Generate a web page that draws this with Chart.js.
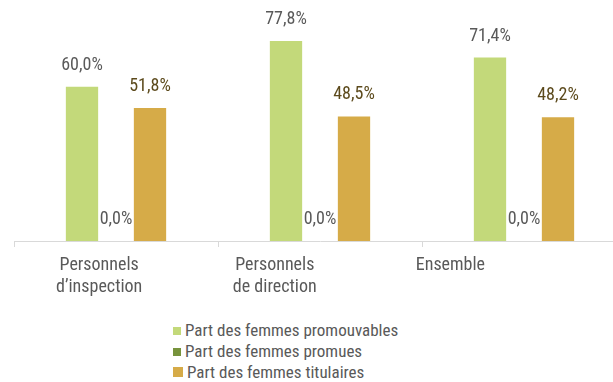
<!DOCTYPE html>
<html lang="fr">
<head>
<meta charset="utf-8">
<title>Part des femmes</title>
<script src="https://cdn.jsdelivr.net/npm/chart.js@4"></script>
<style>
  html, body { margin: 0; padding: 0; background: #fff; overflow: hidden; }
  #wrap { position: relative; width: 613px; height: 382px; overflow: hidden; }
  #chart { position: absolute; left: 0; top: 0; }
  #legend {
    position: absolute; left: 173px; top: 320px;
    font: 17px "Liberation Sans Narrow", "Roboto Condensed", "DejaVu Sans Condensed", sans-serif;
    color: #595959; line-height: 21px;
  }
  #legend div { white-space: nowrap; }
  #legend span { display: inline-block; margin-right: 4px; vertical-align: 1px; }
</style>
</head>
<body>
<div id="wrap">
  <canvas id="chart" width="640" height="310"></canvas>
  <div id="legend"></div>
</div>
<script>
const FONT = '"Liberation Sans Narrow", "Roboto Condensed", "DejaVu Sans Condensed", sans-serif';

const categories = [['Personnels', 'd\u2019inspection'], ['Personnels', 'de direction'], 'Ensemble'];
const seriesNames = ['Part des femmes promouvables', 'Part des femmes promues', 'Part des femmes titulaires'];
const promouvables = [60.0, 77.8, 71.4];
const promues = [0.0, 0.0, 0.0];
const titulaires = [51.8, 48.5, 48.2];

const barColors = ['#c3d97a', '#77933c', '#d6ab48'];
const valueColors = ['#595959', '#595959', '#5c4a1c'];
const legendBoxes = [8, 8, 10];

function fmt(v) {
    return v.toFixed(1).replace('.', ',') + '%';
}

// writes the value above each bar
const valueLabels = {
    id: 'valueLabels',
    afterDatasetsDraw(chart) {
        var ctx = chart.ctx;
        ctx.save();
        ctx.font = '18px ' + FONT;
        ctx.textAlign = 'center';
        ctx.textBaseline = 'alphabetic';
        chart.data.datasets.forEach(function (ds, i) {
            ctx.fillStyle = valueColors[i];
            chart.getDatasetMeta(i).data.forEach(function (bar, j) {
                ctx.fillText(fmt(ds.data[j]), bar.x, bar.y - 17);
            });
        });
        ctx.restore();
    }
};

// one legend row per series, built from the datasets
const htmlLegend = {
    id: 'htmlLegend',
    afterUpdate(chart) {
        var box = document.getElementById('legend');
        box.innerHTML = '';
        chart.data.datasets.forEach(function (ds, i) {
            var row = document.createElement('div');
            var sw = document.createElement('span');
            sw.style.width = legendBoxes[i] + 'px';
            sw.style.height = legendBoxes[i] + 'px';
            sw.style.background = ds.backgroundColor;
            row.appendChild(sw);
            row.appendChild(document.createTextNode(ds.label));
            box.appendChild(row);
        });
    }
};

new Chart(document.getElementById('chart'), {
    type: 'bar',
    data: {
        labels: categories,
        datasets: [
            { label: seriesNames[0], data: promouvables, backgroundColor: barColors[0] },
            { label: seriesNames[1], data: promues, backgroundColor: barColors[1] },
            { label: seriesNames[2], data: titulaires, backgroundColor: barColors[2] }
        ]
    },
    options: {
        responsive: false,
        animation: false,
        layout: { padding: { left: 14, right: 14, top: 0, bottom: 5 } },
        datasets: { bar: { categoryPercentage: 0.5, barPercentage: 0.95 } },
        plugins: {
            legend: { display: false },
            tooltip: { enabled: false }
        },
        scales: {
            x: {
                grid: { drawOnChartArea: false, color: '#d9d9d9', tickLength: 6 },
                border: { color: '#d9d9d9', width: 1 },
                ticks: { display: false }
            },
            // category names sit on their own axis
            xNames: {
                type: 'linear',
                position: 'bottom',
                offset: false,
                min: -0.485,
                max: 3,
                grid: { display: false, drawTicks: false, offset: false },
                border: { display: false },
                afterBuildTicks: function (scale) {
                    scale.ticks = categories.map(function (c, i) { return { value: i }; });
                },
                ticks: {
                    autoSkip: false,
                    maxRotation: 0,
                    padding: 7,
                    color: '#595959',
                    font: { family: FONT, size: 18, lineHeight: 22 / 18 },
                    callback: function (v) { return categories[v]; }
                }
            },
            y: {
                display: false,
                min: 0,
                max: 93.8
            }
        }
    },
    plugins: [valueLabels, htmlLegend]
});
</script>
</body>
</html>
